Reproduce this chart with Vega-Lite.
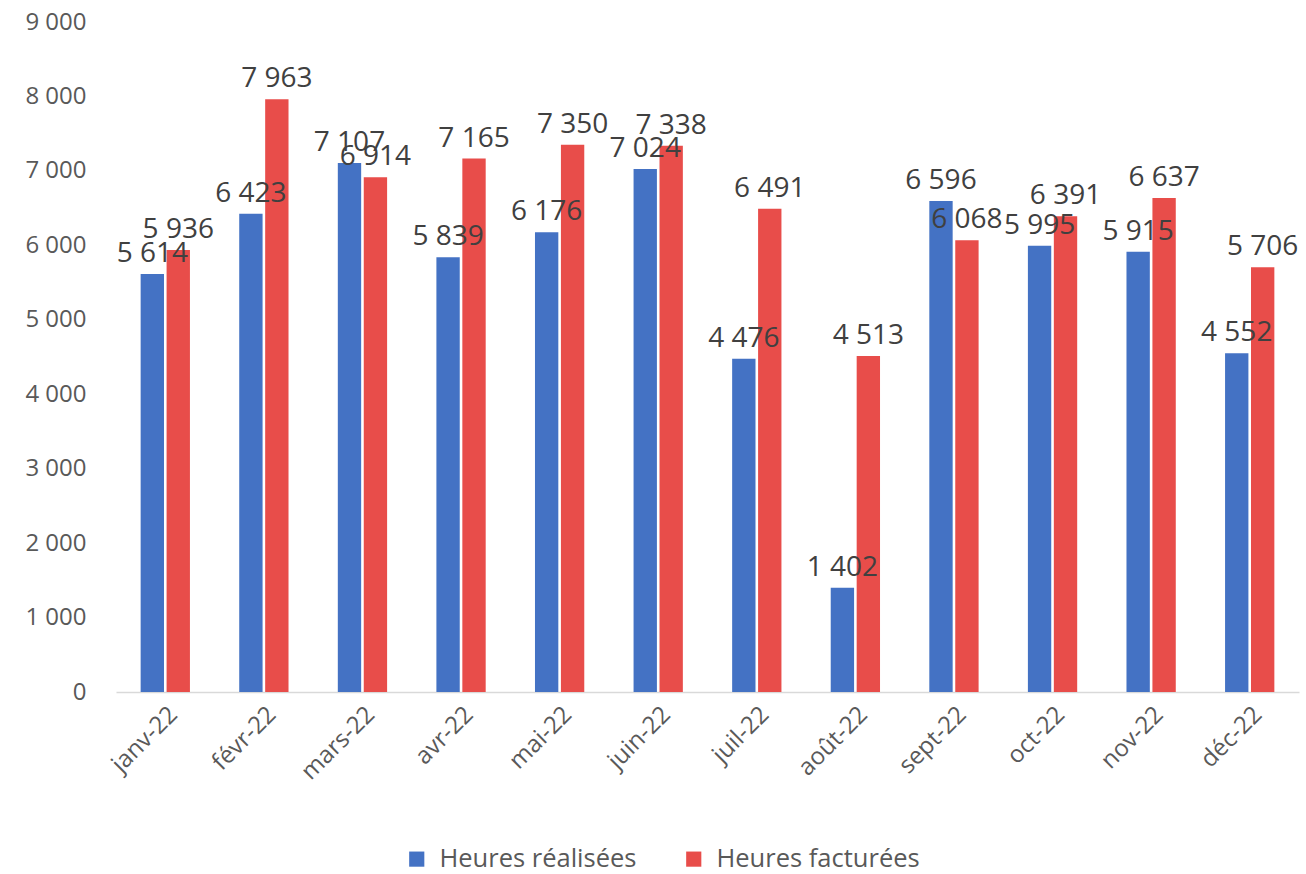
{
  "$schema": "https://vega.github.io/schema/vega-lite/v6.json",
  "width": 1183,
  "height": 670,
  "autosize": {"type": "none"},
  "padding": {"left": 116, "top": 22, "right": 7, "bottom": 182},
  "background": "white",
  "config": {
    "locale": {"number": {"decimal": ",", "thousands": " ", "grouping": [3], "currency": ["", " €"]}},
    "view": {"stroke": null},
    "font": "Open Sans"
  },
  "data": {
    "values": [
      {"mois": "janv-22", "serie": "Heures réalisées", "valeur": 5614},
      {"mois": "janv-22", "serie": "Heures facturées", "valeur": 5936},
      {"mois": "févr-22", "serie": "Heures réalisées", "valeur": 6423},
      {"mois": "févr-22", "serie": "Heures facturées", "valeur": 7963},
      {"mois": "mars-22", "serie": "Heures réalisées", "valeur": 7107},
      {"mois": "mars-22", "serie": "Heures facturées", "valeur": 6914},
      {"mois": "avr-22", "serie": "Heures réalisées", "valeur": 5839},
      {"mois": "avr-22", "serie": "Heures facturées", "valeur": 7165},
      {"mois": "mai-22", "serie": "Heures réalisées", "valeur": 6176},
      {"mois": "mai-22", "serie": "Heures facturées", "valeur": 7350},
      {"mois": "juin-22", "serie": "Heures réalisées", "valeur": 7024},
      {"mois": "juin-22", "serie": "Heures facturées", "valeur": 7338},
      {"mois": "juil-22", "serie": "Heures réalisées", "valeur": 4476},
      {"mois": "juil-22", "serie": "Heures facturées", "valeur": 6491},
      {"mois": "août-22", "serie": "Heures réalisées", "valeur": 1402},
      {"mois": "août-22", "serie": "Heures facturées", "valeur": 4513},
      {"mois": "sept-22", "serie": "Heures réalisées", "valeur": 6596},
      {"mois": "sept-22", "serie": "Heures facturées", "valeur": 6068},
      {"mois": "oct-22", "serie": "Heures réalisées", "valeur": 5995},
      {"mois": "oct-22", "serie": "Heures facturées", "valeur": 6391},
      {"mois": "nov-22", "serie": "Heures réalisées", "valeur": 5915},
      {"mois": "nov-22", "serie": "Heures facturées", "valeur": 6637},
      {"mois": "déc-22", "serie": "Heures réalisées", "valeur": 4552},
      {"mois": "déc-22", "serie": "Heures facturées", "valeur": 5706}
    ]
  },
  "encoding": {
    "x": {
      "field": "mois", "type": "nominal", "sort": null, "title": null,
      "scale": {"paddingInner": 0.5, "paddingOuter": 0.25},
      "axis": {"labelAngle": -45, "labelFontSize": 24, "labelColor": "#595959", "ticks": false, "domainColor": "#D9D9D9", "domainWidth": 1.5, "labelPadding": 10}
    },
    "xOffset": {"field": "serie", "type": "nominal", "sort": ["Heures réalisées", "Heures facturées"], "scale": {"paddingInner": 0.1}},
    "y": {
      "field": "valeur", "type": "quantitative", "title": null,
      "scale": {"domain": [0, 9000], "nice": false},
      "axis": {"values": [0,1000,2000,3000,4000,5000,6000,7000,8000,9000], "format": ",d", "labelFontSize": 24, "labelColor": "#595959", "ticks": false, "domain": false, "grid": false, "labelPadding": 30}
    }
  },
  "layer": [
    {
      "mark": {"type": "bar"},
      "encoding": {
        "color": {
          "field": "serie", "type": "nominal", "sort": ["Heures réalisées", "Heures facturées"],
          "scale": {"domain": ["Heures réalisées", "Heures facturées"], "range": ["#4472C4", "#E84D4A"]},
          "legend": {"orient": "none", "legendX": 288, "legendY": 824, "direction": "horizontal", "title": null, "labelFontSize": 25.5, "labelLimit": 0, "labelColor": "#595959", "symbolType": "square", "symbolSize": 230, "symbolStrokeWidth": 0, "columnPadding": 44, "labelOffset": 10}
        }
      }
    },
    {
      "mark": {"type": "text", "baseline": "bottom", "dy": -6, "fontSize": 28, "color": "#404040"},
      "encoding": {
        "text": {"field": "valeur", "type": "quantitative", "format": ",d"}
      }
    }
  ]
}
